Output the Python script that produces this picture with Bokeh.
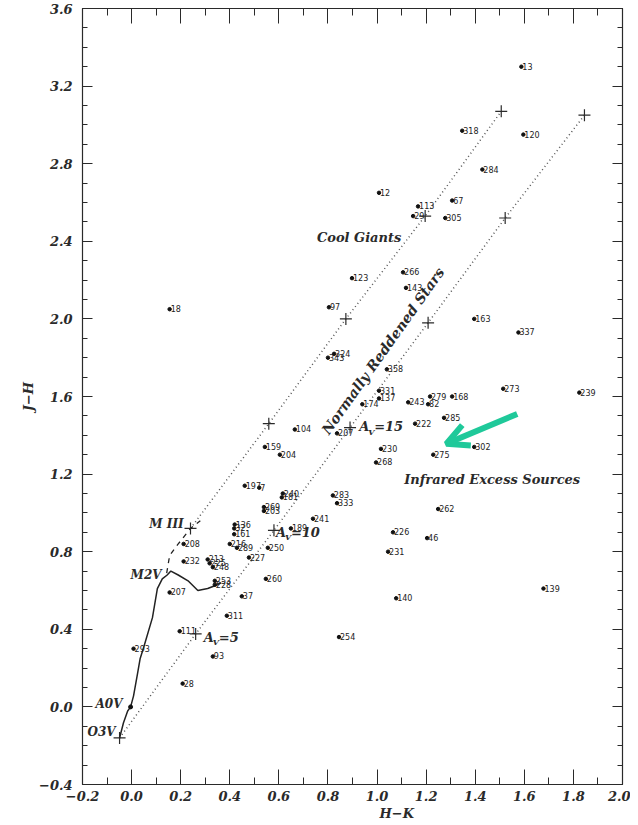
import numpy as np
from bokeh.plotting import figure
from bokeh.models import (ColumnDataSource, FixedTicker, LinearAxis, Title,
                          Arrow, OpenHead, Range1d, CustomJSTickFormatter)
from bokeh.core.properties import value
from bokeh.embed import file_html
from bokeh.resources import INLINE

# ---------------- data ----------------
star_id = ["13", "318", "120", "284", "12", "67", "113", "29", "305", "123",
           "266", "143", "18", "97", "163", "337", "343", "324", "358", "331",
           "137", "174", "243", "279", "82", "168", "273", "239", "285", "222",
           "207", "104", "230", "275", "302", "268", "283", "333", "241", "262",
           "226", "46", "231", "139", "140", "254", "159", "204", "197", "7",
           "240", "181", "269", "203", "189", "136", "32", "161", "216", "289",
           "250", "227", "213", "225", "248", "260", "253", "228", "208", "232",
           "207", "37", "311", "111", "293", "93", "28"]
star_hk = [1.588, 1.347, 1.596, 1.429, 1.008, 1.306, 1.167, 1.147, 1.278, 0.898,
           1.106, 1.118, 0.155, 0.804, 1.396, 1.576, 0.800, 0.825, 1.040, 1.008,
           1.008, 0.940, 1.127, 1.216, 1.208, 1.306, 1.514, 1.824, 1.273, 1.155,
           0.837, 0.665, 1.016, 1.229, 1.396, 0.996, 0.820, 0.837, 0.739, 1.249,
           1.065, 1.204, 1.045, 1.678, 1.078, 0.845, 0.543, 0.604, 0.461, 0.520,
           0.616, 0.612, 0.539, 0.539, 0.649, 0.420, 0.418, 0.418, 0.400, 0.429,
           0.555, 0.478, 0.310, 0.318, 0.331, 0.547, 0.339, 0.339, 0.212, 0.212,
           0.155, 0.449, 0.388, 0.196, 0.008, 0.331, 0.208]
star_jh = [3.30, 2.97, 2.95, 2.77, 2.65, 2.61, 2.58, 2.53, 2.52, 2.21,
           2.24, 2.16, 2.05, 2.06, 2.00, 1.93, 1.80, 1.82, 1.74, 1.63,
           1.59, 1.56, 1.57, 1.60, 1.56, 1.60, 1.64, 1.62, 1.49, 1.46,
           1.41, 1.43, 1.33, 1.30, 1.34, 1.26, 1.09, 1.05, 0.97, 1.02,
           0.90, 0.87, 0.80, 0.61, 0.56, 0.36, 1.34, 1.30, 1.14, 1.13,
           1.10, 1.08, 1.03, 1.01, 0.92, 0.94, 0.92, 0.89, 0.84, 0.82,
           0.82, 0.77, 0.76, 0.74, 0.72, 0.66, 0.65, 0.63, 0.84, 0.75,
           0.59, 0.57, 0.47, 0.39, 0.30, 0.26, 0.12]

# main-sequence (dwarf) locus
dwarf_hk = [-0.049, -0.033, -0.016, -0.004, 0.008, 0.024, 0.035, 0.05, 0.085,
            0.105, 0.125, 0.145, 0.16, 0.19, 0.23, 0.27, 0.31, 0.35, 0.365]
dwarf_jh = [-0.16, -0.082, -0.021, 0.0, 0.057, 0.17, 0.25, 0.31, 0.46,
            0.61, 0.66, 0.68, 0.70, 0.68, 0.65, 0.60, 0.61, 0.63, 0.64]
# giant branch (dashed)
giant_hk = [0.143, 0.155, 0.19, 0.24, 0.28]
giant_jh = [0.69, 0.78, 0.84, 0.92, 0.96]
# reddening vectors, crosses every A_V = 5
upper_hk = [0.24, 0.559, 0.873, 1.196, 1.506]
upper_jh = [0.92, 1.46, 2.00, 2.53, 3.07]
lower_hk = [-0.049, 0.261, 0.58, 0.89, 1.208, 1.522, 1.845]
lower_jh = [-0.16, 0.376, 0.91, 1.44, 1.98, 2.52, 3.05]
# A0V point
a0v_hk = [-0.004]
a0v_jh = [0.0]

x_ticks = [-0.2, 0.0, 0.2, 0.4, 0.6, 0.8, 1.0, 1.2, 1.4, 1.6, 1.8, 2.0]
y_ticks = [-0.4, 0.0, 0.4, 0.8, 1.2, 1.6, 2.0, 2.4, 2.8, 3.2, 3.6]

# annotation texts
sptype_text = ["M III", "M2V", "A0V", "O3V"]
sptype_hk = [0.212, 0.122, -0.037, -0.065]
sptype_jh = [0.943, 0.68, 0.015, -0.13]
av_value = ["=15", "=10", "=5"]
av_hk = [0.927, 0.588, 0.294]
av_jh = [1.443, 0.90, 0.36]
arrow_hk = [1.571, 1.282]
arrow_jh = [1.51, 1.356]

# ---------------- figure ----------------
SERIF = value("DejaVu Serif")
INK = "#2a2a2a"

p = figure(frame_width=540, frame_height=776, output_backend="svg",
           toolbar_location=None, x_range=Range1d(-0.2, 2.0),
           y_range=Range1d(-0.4, 3.6), min_border_left=82, min_border_top=8,
           min_border_right=8, min_border_bottom=38,
           background_fill_color="white", border_fill_color="white")
p.grid.visible = False
p.outline_line_color = INK
p.outline_line_width = 1.2

bottom = p.below[0]
left = p.left[0]

xminor = [round(v, 2) for v in np.arange(-0.2, 2.0001, 0.1)]
yminor = [round(v, 2) for v in np.arange(-0.4, 3.6001, 0.1)]
xt = FixedTicker(ticks=x_ticks, minor_ticks=xminor)
yt = FixedTicker(ticks=y_ticks, minor_ticks=yminor)
fmt = CustomJSTickFormatter(code="""
    return (tick < -1e-9 ? '\\u2212' + Math.abs(tick).toFixed(1) : Math.abs(tick).toFixed(1));
""")
blank = CustomJSTickFormatter(code="return '';")

bottom.ticker = xt
left.ticker = yt
bottom.formatter = fmt
left.formatter = fmt

top = LinearAxis(ticker=xt, formatter=blank, major_label_standoff=0)
right = LinearAxis(ticker=yt, formatter=blank, major_label_standoff=0)
p.add_layout(top, "above")
p.add_layout(right, "right")

for ax in [bottom, top]:
    ax.major_tick_in = 15
    ax.minor_tick_in = 7
for ax in [left, right]:
    ax.major_tick_in = 10
    ax.minor_tick_in = 5
for ax in [bottom, left, top, right]:
    ax.major_tick_out = 0
    ax.minor_tick_out = 0
    ax.axis_line_color = INK
    ax.major_tick_line_color = INK
    ax.minor_tick_line_color = INK
    ax.major_label_text_font = "DejaVu Serif"
    ax.major_label_text_font_style = "bold italic"
    ax.major_label_text_color = INK
    ax.major_label_text_font_size = "13px"

bottom.major_label_standoff = 6
left.major_label_standoff = 10
left.axis_label = "J\u2212H"
left.axis_label_text_font = "DejaVu Serif"
left.axis_label_text_font_style = "bold italic"
left.axis_label_text_font_size = "13px"
left.axis_label_text_color = INK
left.axis_label_standoff = 0

p.add_layout(Title(text="H\u2212K", align="left", offset=297, standoff=0,
                   text_font="DejaVu Serif", text_font_style="bold italic",
                   text_font_size="13px", text_color=INK), "below")

# reddening band lines
p.line(upper_hk, upper_jh, line_color="#555555", line_width=1.5, line_dash="1 3")
p.line(lower_hk, lower_jh, line_color="#555555", line_width=1.5, line_dash="1 3")
p.scatter(upper_hk, upper_jh, marker="cross", size=12, line_color=INK, line_width=1.2)
p.scatter(lower_hk, lower_jh, marker="cross", size=12, line_color=INK, line_width=1.2)

# intrinsic loci
p.line(dwarf_hk, dwarf_jh, line_color="#222222", line_width=1.5)
p.line(giant_hk, giant_jh, line_color="#222222", line_width=1.3, line_dash="5 5")
p.scatter(a0v_hk, a0v_jh, size=4, color="#111111")

# stars
src = ColumnDataSource(dict(hk=star_hk, jh=star_jh, id=star_id))
p.scatter("hk", "jh", source=src, size=3.5, color="#111111")
p.text("hk", "jh", text="id", source=src, x_offset=1, y_offset=3,
       text_baseline="bottom", text_align="left", text_font=value("DejaVu Sans"),
       text_font_size="8px", text_color="#222222")

# spectral type labels
p.text(sptype_hk, sptype_jh, text=sptype_text, text_align="right",
       text_baseline="middle", text_font=SERIF, text_font_style="bold italic",
       text_font_size="12px", text_color=INK)

# A_V labels
p.text(av_hk, av_jh, text=["A"] * len(av_hk), text_align="left",
       text_baseline="middle", text_font=SERIF, text_font_style="bold italic",
       text_font_size="13px", text_color=INK)
p.text(av_hk, av_jh, text=["V"] * len(av_hk), x_offset=9, y_offset=5,
       text_align="left", text_baseline="middle", text_font=SERIF,
       text_font_style="bold italic", text_font_size="8px", text_color=INK)
p.text(av_hk, av_jh, text=av_value, x_offset=15, text_align="left",
       text_baseline="middle", text_font=SERIF, text_font_style="bold italic",
       text_font_size="13px", text_color=INK)

# region labels
p.text([0.927], [2.42], text=["Cool Giants"], text_align="center",
       text_baseline="middle", text_font=SERIF, text_font_style="bold italic",
       text_font_size="13px", text_color=INK)
p.text([1.469], [1.17], text=["Infrared Excess Sources"], text_align="center",
       text_baseline="middle", text_font=SERIF, text_font_style="bold italic",
       text_font_size="13px", text_color=INK)
p.text([1.024], [1.835], text=["Normally Reddened Stars"], angle=0.953,
       text_align="center", text_baseline="middle", text_font=SERIF,
       text_font_style="bold italic", text_font_size="14px", text_color=INK)

# green pointer arrow
GREEN = "#1fc99a"
p.add_layout(Arrow(end=OpenHead(size=22, line_width=6, line_color=GREEN),
                   x_start=arrow_hk[0], y_start=arrow_jh[0],
                   x_end=arrow_hk[1], y_end=arrow_jh[1],
                   line_color=GREEN, line_width=6))

open("out.html", "w").write(file_html(p, INLINE))
